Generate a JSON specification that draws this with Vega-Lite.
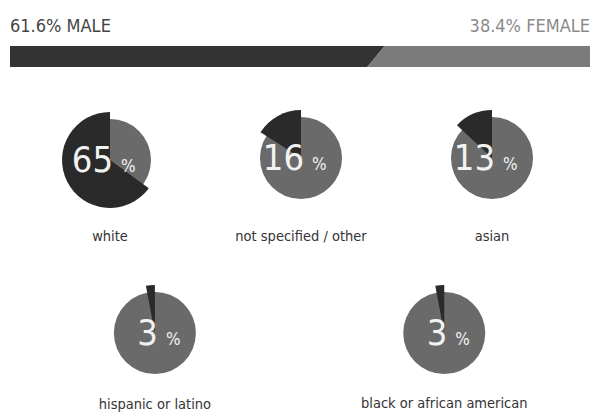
{
  "$schema": "https://vega.github.io/schema/vega-lite/v6.json",
  "width": 594,
  "height": 414,
  "autosize": {"type": "fit", "contains": "padding"},
  "padding": 0,
  "background": "white",
  "config": {"view": {"stroke": null}, "font": "DejaVu Sans Condensed, Roboto, sans-serif"},
  "datasets": {
    "gender": [
      {"gender": "male", "edge": 4.6, "start": 0, "end": 64.6},
      {"gender": "male", "edge": 6.7, "start": 0, "end": 61.6},
      {"gender": "female", "edge": 4.6, "start": 64.6, "end": 100},
      {"gender": "female", "edge": 6.7, "start": 61.6, "end": 100}
    ],
    "titles": [
      {"label": "61.6% MALE", "pos": 0, "side": "left"},
      {"label": "38.4% FEMALE", "pos": 100, "side": "right"}
    ],
    "groups": [
      {"group": "white", "pct": 65, "u": 1, "cy": 16.0, "ly": 24.1},
      {"group": "not specified / other", "pct": 16, "u": 3, "cy": 15.8, "ly": 24.1},
      {"group": "asian", "pct": 13, "u": 5, "cy": 15.8, "ly": 24.1},
      {"group": "hispanic or latino", "pct": 3, "u": 1.47, "cy": 33.3, "ly": 40.9},
      {"group": "black or african american", "pct": 3, "u": 4.5, "cy": 33.3, "ly": 40.8}
    ]
  },
  "resolve": {"scale": {"x": "independent"}},
  "layer": [
    {
      "layer": [
        {
          "data": {"name": "gender"},
          "mark": {"type": "area", "orient": "horizontal"},
          "encoding": {
            "y": {"field": "edge", "type": "quantitative", "scale": {"domain": [0, 41.4], "range": [0, 414], "nice": false, "zero": false}, "axis": null},
            "x": {"field": "start", "type": "quantitative", "scale": {"domain": [0, 100], "range": [10, 590], "nice": false}, "axis": null},
            "x2": {"field": "end"},
            "color": {"field": "gender", "type": "nominal", "scale": {"domain": ["male", "female"], "range": ["#333333", "#7b7b7b"]}, "legend": null}
          }
        },
        {
          "data": {"name": "titles"},
          "transform": [{"filter": "datum.side === 'left'"}],
          "mark": {"type": "text", "fontSize": 18, "align": "left", "baseline": "alphabetic", "fill": "#444444"},
          "encoding": {
            "y": {"datum": 3.2, "type": "quantitative"},
            "x": {"field": "pos", "type": "quantitative"},
            "text": {"field": "label"}
          }
        },
        {
          "data": {"name": "titles"},
          "transform": [{"filter": "datum.side === 'right'"}],
          "mark": {"type": "text", "fontSize": 18, "align": "right", "baseline": "alphabetic", "fill": "#8a8a8a"},
          "encoding": {
            "y": {"datum": 3.2, "type": "quantitative"},
            "x": {"field": "pos", "type": "quantitative"},
            "text": {"field": "label"}
          }
        }
      ]
    },
    {
      "data": {"name": "groups"},
      "encoding": {
        "x": {"field": "u", "type": "quantitative", "scale": {"domain": [0, 6], "range": [14.5, 587.5], "nice": false}, "axis": null},
        "y": {"field": "cy", "type": "quantitative"}
      },
      "layer": [
        {
          "mark": {"type": "arc", "radius": 41, "theta": 0, "theta2": 6.2832, "fill": "#6a6a6a"}
        },
        {
          "mark": {"type": "arc", "radius": 48, "fill": "#2a2a2a"},
          "encoding": {
            "theta": {"field": "pct", "type": "quantitative", "stack": null, "scale": {"domain": [0, 100], "range": [0, -6.2832]}},
            "theta2": {"datum": 0}
          }
        },
        {
          "mark": {"type": "text", "fontSize": 36, "align": "right", "baseline": "alphabetic", "dx": 3, "dy": 12, "fill": "#f2f2f2"},
          "encoding": {"text": {"field": "pct"}}
        },
        {
          "mark": {"type": "text", "fontSize": 17, "align": "left", "baseline": "alphabetic", "dx": 11, "dy": 12, "fill": "#f2f2f2"},
          "encoding": {"text": {"value": "%"}}
        },
        {
          "mark": {"type": "text", "fontSize": 14.5, "align": "center", "baseline": "alphabetic", "fill": "#333333"},
          "encoding": {"text": {"field": "group"}, "y": {"field": "ly", "type": "quantitative"}}
        }
      ]
    }
  ]
}
